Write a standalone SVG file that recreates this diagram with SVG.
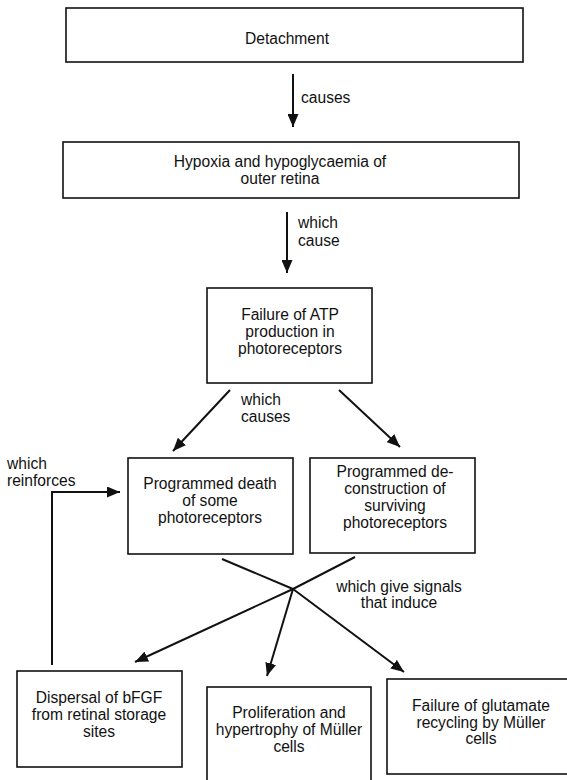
<svg xmlns="http://www.w3.org/2000/svg" width="567" height="780" viewBox="0 0 567 780">
<style>
.box{fill:#fff;stroke:#111;stroke-width:1.6}
text{font-family:"Liberation Sans",Arial,sans-serif;font-size:15.6px;fill:#111}
.c{text-anchor:middle}
.ln{stroke:#111;stroke-width:2;fill:none}
</style>
<defs>
<marker id="ah" markerUnits="userSpaceOnUse" markerWidth="14" markerHeight="11" refX="13" refY="5.5" orient="auto">
<path d="M0,0 L13,5.5 L0,11 z" fill="#111"/>
</marker>
</defs>
<g id="connectors">
<line class="ln" x1="293" y1="74" x2="293" y2="127" marker-end="url(#ah)"/>
<line class="ln" x1="287" y1="212" x2="287" y2="273" marker-end="url(#ah)"/>
<line class="ln" x1="230" y1="390" x2="173" y2="451" marker-end="url(#ah)"/>
<line class="ln" x1="339" y1="390" x2="400" y2="447" marker-end="url(#ah)"/>
<polyline class="ln" points="52,665 52,492 120,492" marker-end="url(#ah)"/>
<line class="ln" x1="222" y1="559" x2="293" y2="589"/>
<line class="ln" x1="355" y1="557" x2="293" y2="589"/>
<line class="ln" x1="293" y1="589" x2="135" y2="662" marker-end="url(#ah)"/>
<line class="ln" x1="293" y1="589" x2="267" y2="676" marker-end="url(#ah)"/>
<line class="ln" x1="293" y1="589" x2="404" y2="672" marker-end="url(#ah)"/>
<text x="301" y="103">causes</text>
<text x="298" y="228">which</text>
<text x="298" y="246">cause</text>
<text x="241" y="405">which</text>
<text x="241" y="422">causes</text>
<text x="7" y="469">which</text>
<text x="7" y="486">reinforces</text>
<text class="c" x="399" y="592">which give signals</text>
<text class="c" x="399" y="608">that induce</text>
</g>
<g id="detachment">
<rect class="box" x="66" y="8" width="457" height="54"/>
<text class="c" x="287" y="44">Detachment</text>
</g>
<g id="hypoxia">
<rect class="box" x="63" y="142" width="456" height="56"/>
<text class="c" x="280" y="167">Hypoxia and hypoglycaemia of</text>
<text class="c" x="280" y="184">outer retina</text>
</g>
<g id="atp-failure">
<rect class="box" x="207" y="288" width="165" height="95"/>
<text class="c" x="290" y="320">Failure of ATP</text>
<text class="c" x="290" y="337">production in</text>
<text class="c" x="290" y="354">photoreceptors</text>
</g>
<g id="programmed-death">
<rect class="box" x="128" y="458" width="165" height="96"/>
<text class="c" x="210" y="489">Programmed death</text>
<text class="c" x="210" y="506">of some</text>
<text class="c" x="210" y="523">photoreceptors</text>
</g>
<g id="deconstruction">
<rect class="box" x="310" y="458" width="165" height="95"/>
<text class="c" x="395" y="477">Programmed de-</text>
<text class="c" x="395" y="494">construction of</text>
<text class="c" x="395" y="511">surviving</text>
<text class="c" x="395" y="528">photoreceptors</text>
</g>
<g id="bfgf">
<rect class="box" x="17" y="671" width="165" height="96"/>
<text class="c" x="99" y="703">Dispersal of bFGF</text>
<text class="c" x="99" y="720">from retinal storage</text>
<text class="c" x="99" y="737">sites</text>
</g>
<g id="muller-proliferation">
<rect class="box" x="207" y="687" width="164" height="110"/>
<text class="c" x="289" y="718">Proliferation and</text>
<text class="c" x="289" y="735">hypertrophy of Müller</text>
<text class="c" x="289" y="752">cells</text>
</g>
<g id="glutamate">
<rect class="box" x="387" y="679" width="190" height="95"/>
<text class="c" x="481" y="711">Failure of glutamate</text>
<text class="c" x="481" y="728">recycling by Müller</text>
<text class="c" x="481" y="744">cells</text>
</g>
</svg>
